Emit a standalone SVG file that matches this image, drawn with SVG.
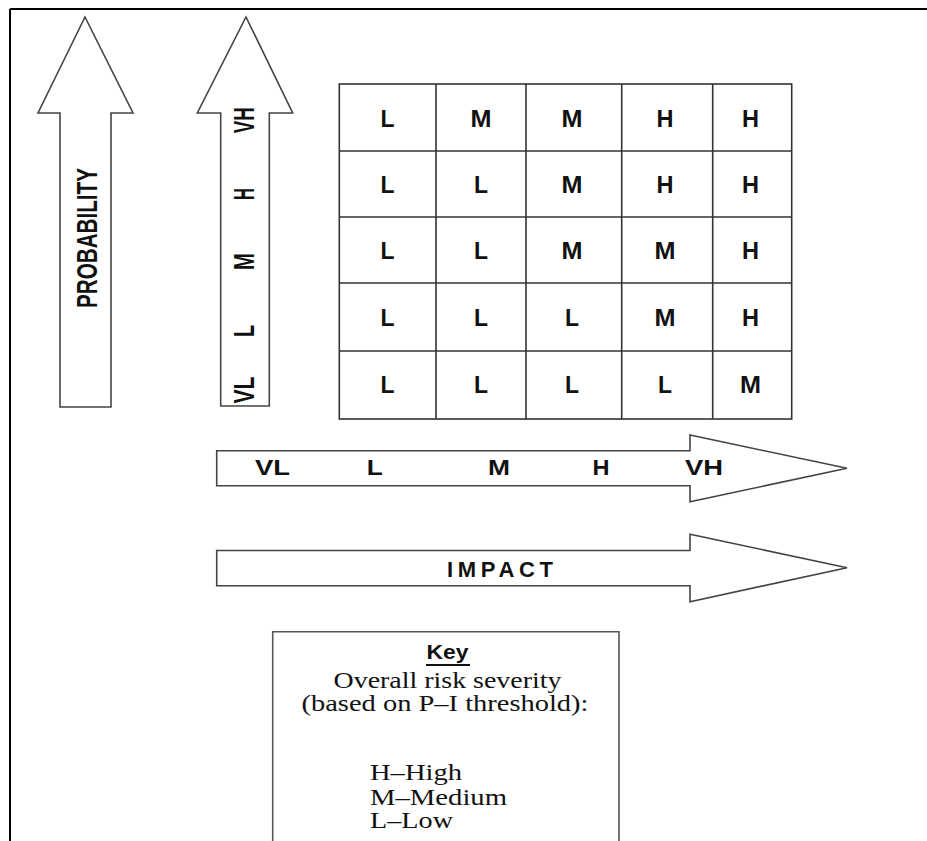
<svg xmlns="http://www.w3.org/2000/svg" width="927" height="841" viewBox="0 0 927 841">
<style>
.arrow{fill:#fff;stroke:#444;stroke-width:1.6;stroke-linejoin:miter}
.grid{fill:none;stroke:#333;stroke-width:1.6}
.cond{font-family:"Liberation Sans",Arial,sans-serif;font-weight:bold;fill:#111}
.cell{font-family:"Liberation Sans",Arial,sans-serif;font-weight:bold;font-size:23px;fill:#111;text-anchor:middle}
.ax{font-family:"Liberation Sans",Arial,sans-serif;font-weight:bold;font-size:22px;fill:#111;text-anchor:middle}
.key{font-family:"Liberation Serif","Times New Roman",serif;font-size:22.5px;fill:#111}
</style>
<rect width="927" height="841" fill="#fff"/>
<g id="frame"><path d="M10 9 H927 M10 9 V841" fill="none" stroke="#000" stroke-width="2"/></g>

<g id="probability-arrow">
<polygon class="arrow" points="85,17 133,113 111,113 111,407 60,407 60,113 38,113"/>
<text class="cond" font-size="30" text-anchor="middle" textLength="140" lengthAdjust="spacingAndGlyphs" transform="translate(97,238) rotate(-90)">PROBABILITY</text>
</g>

<g id="probability-scale">
<polygon class="arrow" points="246,17 292.7,113 269.3,113 269.3,406 220.7,406 220.7,113 197.3,113"/>
<g class="cond" font-size="29" text-anchor="middle">
<text textLength="26" lengthAdjust="spacingAndGlyphs" transform="translate(254,120.3) rotate(-90)">VH</text>
<text textLength="12" lengthAdjust="spacingAndGlyphs" transform="translate(254,194) rotate(-90)">H</text>
<text textLength="17" lengthAdjust="spacingAndGlyphs" transform="translate(254,261.5) rotate(-90)">M</text>
<text textLength="12" lengthAdjust="spacingAndGlyphs" transform="translate(254,331) rotate(-90)">L</text>
<text textLength="27" lengthAdjust="spacingAndGlyphs" transform="translate(254,390) rotate(-90)">VL</text>
</g>
</g>

<g id="matrix">
<rect class="grid" x="339.3" y="84" width="452.4" height="335"/>
<path class="grid" d="M436 84 V419 M526 84 V419 M621.7 84 V419 M712.7 84 V419 M339.3 151 H791.7 M339.3 217 H791.7 M339.3 283 H791.7 M339.3 351 H791.7"/>
<g class="cell">
<text x="387.6" y="126.7" textLength="14" lengthAdjust="spacingAndGlyphs">L</text>
<text x="481" y="126.7" textLength="21" lengthAdjust="spacingAndGlyphs">M</text>
<text x="572" y="126.7" textLength="21" lengthAdjust="spacingAndGlyphs">M</text>
<text x="665" y="126.7" textLength="17" lengthAdjust="spacingAndGlyphs">H</text>
<text x="750.5" y="126.7" textLength="17" lengthAdjust="spacingAndGlyphs">H</text>

<text x="387.6" y="192.7" textLength="14" lengthAdjust="spacingAndGlyphs">L</text>
<text x="481" y="192.7" textLength="14" lengthAdjust="spacingAndGlyphs">L</text>
<text x="572" y="192.7" textLength="21" lengthAdjust="spacingAndGlyphs">M</text>
<text x="665" y="192.7" textLength="17" lengthAdjust="spacingAndGlyphs">H</text>
<text x="750.5" y="192.7" textLength="17" lengthAdjust="spacingAndGlyphs">H</text>

<text x="387.6" y="259" textLength="14" lengthAdjust="spacingAndGlyphs">L</text>
<text x="481" y="259" textLength="14" lengthAdjust="spacingAndGlyphs">L</text>
<text x="572" y="259" textLength="21" lengthAdjust="spacingAndGlyphs">M</text>
<text x="665" y="259" textLength="21" lengthAdjust="spacingAndGlyphs">M</text>
<text x="750.5" y="259" textLength="17" lengthAdjust="spacingAndGlyphs">H</text>

<text x="387.6" y="325.5" textLength="14" lengthAdjust="spacingAndGlyphs">L</text>
<text x="481" y="325.5" textLength="14" lengthAdjust="spacingAndGlyphs">L</text>
<text x="572" y="325.5" textLength="14" lengthAdjust="spacingAndGlyphs">L</text>
<text x="665" y="325.5" textLength="21" lengthAdjust="spacingAndGlyphs">M</text>
<text x="750.5" y="325.5" textLength="17" lengthAdjust="spacingAndGlyphs">H</text>

<text x="387.6" y="392.7" textLength="14" lengthAdjust="spacingAndGlyphs">L</text>
<text x="481" y="392.7" textLength="14" lengthAdjust="spacingAndGlyphs">L</text>
<text x="572" y="392.7" textLength="14" lengthAdjust="spacingAndGlyphs">L</text>
<text x="665" y="392.7" textLength="14" lengthAdjust="spacingAndGlyphs">L</text>
<text x="750.5" y="392.7" textLength="21" lengthAdjust="spacingAndGlyphs">M</text>
</g>
</g>

<g id="impact-scale">
<polygon class="arrow" points="216.7,450.7 690,450.7 690,435 847,468.3 690,501.7 690,485.7 216.7,485.7"/>
<g class="ax">
<text x="272.5" y="475" textLength="35" lengthAdjust="spacingAndGlyphs">VL</text>
<text x="374.7" y="475" textLength="16" lengthAdjust="spacingAndGlyphs">L</text>
<text x="499" y="475" textLength="22" lengthAdjust="spacingAndGlyphs">M</text>
<text x="601" y="475" textLength="17" lengthAdjust="spacingAndGlyphs">H</text>
<text x="704" y="475" textLength="38" lengthAdjust="spacingAndGlyphs">VH</text>
</g>
</g>

<g id="impact-arrow">
<polygon class="arrow" points="216.7,550.5 690,550.5 690,534.3 847,567.7 690,601.7 690,585.7 216.7,585.7"/>
<text class="ax" x="500" y="576.7" textLength="106" lengthAdjust="spacing">IMPACT</text>
</g>

<g id="key">
<path d="M272.7 841 V631.7 H619 V841" fill="#fff" stroke="#555" stroke-width="1.6"/>
<text class="cond" font-size="20" x="447.5" y="659.3" text-anchor="middle" textLength="42" lengthAdjust="spacingAndGlyphs">Key</text>
<line x1="426" y1="665" x2="470" y2="665" stroke="#111" stroke-width="2"/>
<text class="key" x="447.5" y="688.3" text-anchor="middle" textLength="228" lengthAdjust="spacingAndGlyphs">Overall risk severity</text>
<text class="key" x="445" y="711" text-anchor="middle" textLength="287" lengthAdjust="spacingAndGlyphs">(based on P–I threshold):</text>
<text class="key" x="370" y="780" textLength="92" lengthAdjust="spacingAndGlyphs">H–High</text>
<text class="key" x="370" y="805" textLength="137" lengthAdjust="spacingAndGlyphs">M–Medium</text>
<text class="key" x="370" y="828" textLength="83" lengthAdjust="spacingAndGlyphs">L–Low</text>
</g>
</svg>
